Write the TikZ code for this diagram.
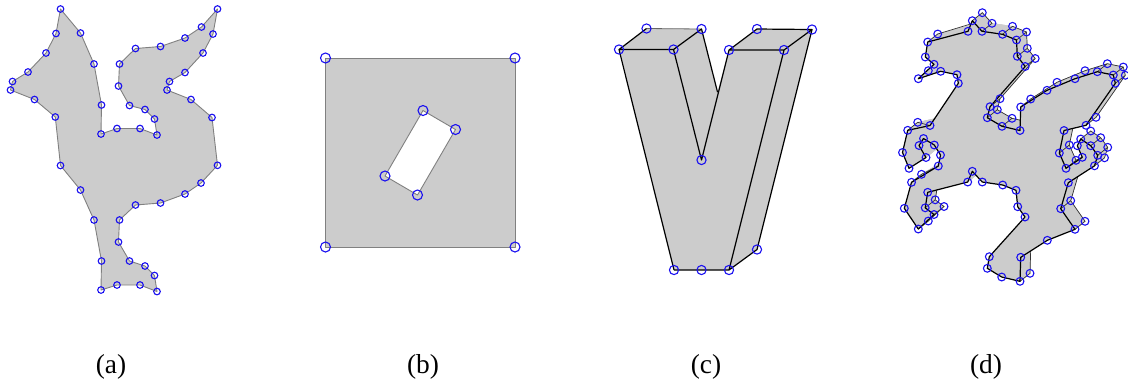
\documentclass[tikz,border=0pt]{standalone}
\usepackage{fontspec}
\setmainfont{Liberation Serif}
\usetikzlibrary{calc}
\definecolor{facegray}{HTML}{CCCCCC}
\definecolor{markblue}{HTML}{1A10F0}
\begin{document}
\begin{tikzpicture}[
        x=0.5pt, y=-0.5pt,
        vertex/.style={circle, draw=markblue, line width=0.55pt, inner sep=0pt, minimum size=#1},
        vertex/.default=3.9pt,
        plain/.style={fill=facegray, draw=gray, line width=0.45pt, line join=round},
        side/.style={fill=facegray, draw=facegray, line width=0.2pt},
        front/.style={fill=facegray, draw=black, line width=0.6pt, line join=round},
        backedge/.style={draw=black!80, line width=0.35pt},
        caption/.style={font=\fontsize{13.7}{16}\selectfont, inner sep=0pt}
    ]
    \useasboundingbox (0,0) rectangle (1128,388);

    % (a)
    \foreach \p [count=\i] in {(60.5,9),(80.5,33),(94,64),(101.5,105),(101,134),(117,128.5),(140,128.5),(157,135),
        (154.5,119),(145,109.5),(129.5,105.5),(118.5,86),(119.5,64),(135.5,48.5),(160.5,46.5),(185,38),(201.5,27),
        (217.5,9),(213,34),(203,53),(185,72.5),(169.5,81.5),(167,90),(191,99.5),(212,117.5),(217.5,165.3),(201,183),
        (185,194),(160.5,203),(135.5,205),(119.5,220),(118.5,242),(129.5,261),(145,266),(154.5,275.5),(157,291.5),
        (140,285),(117,285),(101,290),(101.5,261),(94,220),(80.5,190),(60.5,165.5),(55.3,117),(34.5,99.5),(10.5,90),
        (12.5,81.5),(28,72),(46,53),(56,33.5)}
        \path \p coordinate (a\i);
    \path[plain] (a1) foreach \i in {2,...,50} {-- (a\i)} -- cycle;
    \foreach \i in {1,...,50} \node[vertex=3.3pt] (va\i) at (a\i) {};

    % (b)
    \foreach \p [count=\i] in {(325.5,58),(515,58),(515,247),(325.5,247)} \path \p coordinate (s\i);
    \foreach \p [count=\i] in {(423,110.5),(455.5,129.5),(417.5,195),(385,176)} \path \p coordinate (h\i);
    \path[plain] (s1) -- (s2) -- (s3) -- (s4) -- cycle;
    \path[plain, fill=white] (h1) -- (h2) -- (h3) -- (h4) -- cycle;
    \foreach \n in {s1,s2,s3,s4,h1,h2,h3,h4} \node[vertex=5pt] (v\n) at (\n) {};

    % (c)
    \coordinate (vA) at (619,49.5);
    \coordinate (vB) at (646.5,28.5);
    \coordinate (vC) at (701.5,29);
    \coordinate (vD) at (673.5,49.5);
    \coordinate (vE) at (701.5,160);
    \coordinate (vF) at (729,50);
    \coordinate (vG) at (757,29);
    \coordinate (vH) at (812,29.5);
    \coordinate (vK) at (784,50);
    \coordinate (vL) at (757,249.5);
    \coordinate (vM) at (729,270);
    \coordinate (vN) at (701.5,270);
    \coordinate (vP) at (674,270);
    \coordinate (vQ) at (717.5,92);
    \path[fill=facegray] (vA) -- (vB) -- (vC) -- (vQ) -- (vF) -- (vG) -- (vH) -- (vL) -- (vM) -- (vP) -- cycle;
    \draw[black!60, line width=0.4pt] (vB) -- (vC);
    \draw[black, line width=0.6pt, line join=round] (vP) -- (vA) -- (vB) (vA) -- (vD) -- (vC) -- (vQ)
        (vD) -- (vE) -- (vF) -- (vG) -- (vH) -- (vL) -- (vM) -- (vP)
        (vF) -- (vK) -- (vH) (vK) -- (vM);
    \foreach \n in {A,B,C,D,E,F,G,H,K,L,M,N,P} \node[vertex=4.6pt] (c\n) at (v\n) {};

    % (d)
    \foreach \p [count=\i] in {(927.7,42),(968,31.3),(972.3,20.7),(982,31.3),(1002.5,34.3),(1016.5,40),(1017.3,56.3),
        (1025.2,66.5),(990,106.7),(987.3,117.7),(1002,126.3),(1020,130.5),(1020.7,107),(1047,90.3),(1075,78.7),
        (1097.3,71.7),(1113.3,75),(1115.3,83.3),(1086,125.3),(1064,130.5),(1059.3,153),(1066,168.3),(1082.3,157.3),
        (1077.3,145.7),(1080.7,139),(1090.7,145.7),(1097.7,155.3),(1094.5,165.8),(1068.3,182.7),(1060.7,208.7),
        (1075,229.3),(1047.3,240.3),(1020.7,257.3),(1020,281.3),(1001.7,277),(987.3,268.3),(989.3,256.7),(1025,217),
        (1017.7,206.7),(1016,190.3),(1002.7,185),(982.3,182),(972.3,171.3),(967.7,182),(927.7,192.3),(925.2,207.8),
        (934,214.5),(918.3,229),(904.3,208.3),(911.5,182.3),(938.3,166),(940.5,155),(934.3,145),(923.5,138.5),
        (919,145.5),(926,157.5),(909,168.3),(902.5,152.5),(907.7,130.3),(930,125.5),(958.3,83.3),(957,74.7),
        (940.7,71.3),(918.3,78.7),(934,64.3),(925.3,57)}
        \path \p coordinate (f\i);
    \foreach \i in {1,...,66} \coordinate (b\i) at ($(f\i)+(10,-8)$);
    \path[side] (b1) foreach \i in {2,...,66} {-- (b\i)} -- cycle;
    \foreach \i [remember=\i as \j (initially 66)] in {1,...,66}
        \path[side] (f\j) -- (f\i) -- (b\i) -- (b\j) -- cycle;
    \draw[backedge] (f1) -- (b1) -- ($(f2)!.7!(f3)$)
        (f3) -- (b3) -- (b4) -- (f4)
        (f5) -- (b5) -- (b6) -- (f6) (b6) -- (b7) -- (f7) (b7) -- (b8) -- (f8)
        (b8) -- (b9) -- (f9) (b9) -- (b10) -- (f10) (b10) -- (b11) -- (f11) (b11) -- (b12)
        (f13) -- (b13) -- (b14) -- (b15) -- (b16) -- (b17) -- (b18) -- (f18) (f16) -- (b16) (f17) -- (b17)
        (b18) -- (b19) -- (f19) (f21) -- (b21) -- (b20) (b21) -- (b22) -- (f23) (f22) -- (b22)
        (f25) -- (b25) -- (b26) -- (b27) -- (b28) -- (f28) (f26) -- (b26) (f27) -- (b27)
        (b29) -- (b30) -- (b31) -- (f31) (f30) -- (b30)
        (f33) -- (b33) -- (b34) -- (f34)
        (b45) -- (b46) -- (b47) -- (b48) -- (f48) (f46) -- (b46) (f47) -- (b47)
        (f50) -- (b50) -- (f51)
        (f59) -- (b59) -- (f60)
        (f64) -- (b64) -- (f65);
    \path[front] (f1) foreach \i in {2,...,66} {-- (f\i)} -- cycle;
    \foreach \i in {1,...,66} \node[vertex] (vf\i) at (f\i) {};
    \foreach \i in {1,3,4,5,6,7,8,9,10,11,13,14,15,16,17,18,19,21,22,25,26,27,28,30,31,34,46,47,48,50,59,64}
        \node[vertex] (vb\i) at (b\i) {};

    \node[caption] (capa) at (111,367) {(a)};
    \node[caption] (capb) at (423,367) {(b)};
    \node[caption] (capc) at (706,367) {(c)};
    \node[caption] (capd) at (986,367) {(d)};
\end{tikzpicture}
\end{document}
